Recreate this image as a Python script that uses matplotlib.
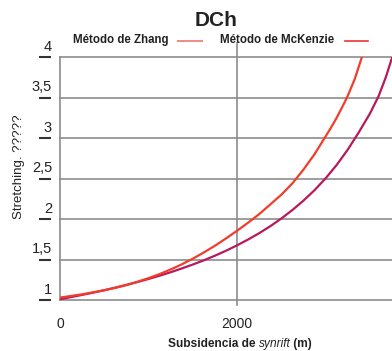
import matplotlib
matplotlib.use("Agg")
import matplotlib.pyplot as plt
import matplotlib.transforms as mtransforms
from matplotlib.lines import Line2D

# ---- data ----
subs_mckenzie = [0, 125, 250, 375, 500, 625, 750, 875, 1000, 1125, 1250, 1375,
                 1500, 1625, 1750, 1875, 2000, 2125, 2250, 2375, 2500, 2625,
                 2750, 2875, 3000, 3062, 3125, 3187, 3250, 3330, 3410]
stretch_mckenzie = [1.03, 1.05, 1.07, 1.095, 1.12, 1.15, 1.185, 1.225, 1.27,
                    1.32, 1.377, 1.44, 1.51, 1.587, 1.67, 1.76, 1.855, 1.955,
                    2.06, 2.18, 2.30, 2.44, 2.61, 2.80, 3.02, 3.13, 3.25, 3.38,
                    3.52, 3.73, 4.0]

subs_zhang = [0, 125, 250, 375, 500, 625, 750, 875, 1000, 1125, 1250, 1375,
              1500, 1625, 1750, 1875, 2000, 2125, 2250, 2375, 2500, 2625, 2750,
              2875, 3000, 3125, 3250, 3375, 3500, 3600, 3680, 3750]
stretch_zhang = [1.01, 1.036, 1.063, 1.091, 1.121, 1.153, 1.186, 1.222, 1.26,
                 1.30, 1.343, 1.389, 1.438, 1.49, 1.547, 1.608, 1.675, 1.747,
                 1.825, 1.911, 2.006, 2.111, 2.227, 2.356, 2.502, 2.667, 2.856,
                 3.07, 3.30, 3.52, 3.75, 3.99]

y_ticks = [1, 1.5, 2, 2.5, 3, 3.5, 4]
y_tick_labels = ["1", "1,5", "2", "2,5", "3", "3,5", "4"]
x_ticks = [0, 2000]
x_tick_labels = ["0", "2000"]

title = "DCh"
legend_labels = ["Método de Zhang", "Método de McKenzie"]
ylabel = "Stretching. ?????"

FONT = ["Liberation Sans", "DejaVu Sans"]

GRID = "#8c8c8c"
C_UP = "#f23c2c"
C_LOW = "#b8195a"
TXT = "#222222"

W, H = 392, 351
fig = plt.figure(figsize=(W / 100, H / 100), dpi=100)
ax = fig.add_axes([60 / W, 1 - 300 / H, 332 / W, 243 / H])
ax.set_xlim(0, 3750)
ax.set_ylim(1, 4)
for s in ["top", "right", "bottom"]:
    ax.spines[s].set_visible(False)
ax.spines["left"].set_color(GRID)
ax.spines["left"].set_linewidth(1.2)

# horizontal grid
for v in y_ticks:
    ax.axhline(v, color=GRID, lw=1.2, clip_on=False, zorder=1)
# vertical line at 2000, extending beyond the axes
ax.axvline(2000, ymin=-0.02, ymax=1.058, color=GRID, lw=1.2, clip_on=False, zorder=1)

# curves
ax.plot(subs_zhang, stretch_zhang, color=C_LOW, lw=1.6, zorder=3)
ax.plot(subs_mckenzie, stretch_mckenzie, color=C_UP, lw=1.6, zorder=3)

# y ticks (dash + label above)
ax.set_yticks([])
trans = mtransforms.blended_transform_factory(ax.transAxes, ax.transData)
for v, lab in zip(y_ticks, y_tick_labels):
    ax.plot([-0.062, -0.028], [v, v], transform=trans, color="#333333",
            lw=1.5, clip_on=False, solid_capstyle="butt")
    ax.annotate(lab, xy=(-0.024, v), xycoords=trans, xytext=(0, 2.5),
                textcoords="offset points", ha="right", va="bottom",
                fontsize=10.5, family=FONT, color=TXT)

# x ticks
ax.set_xticks(x_ticks)
ax.set_xticklabels(x_tick_labels, fontsize=10, family=FONT, color=TXT)
ax.tick_params(axis="x", length=0, pad=12)

# y label
fig.text(19 / W, 1 - 167 / H, ylabel, rotation=90, ha="center", va="center",
         fontsize=9.5, family=FONT, color=TXT)

# x label with italic part
t1 = fig.text(168 / W, 1 - 347 / H, "Subsidencia de ", fontsize=8.6,
              family=FONT, fontweight="bold", color=TXT, va="baseline")
t2 = ax.annotate("synrift", xy=(1, 0), xycoords=t1, va="bottom", ha="left",
                 fontsize=8.6, family=FONT, fontstyle="italic", color=TXT)
t3 = ax.annotate(" (m)", xy=(1, 0), xycoords=t2, va="bottom", ha="left",
                 fontsize=8.6, family=FONT, fontweight="bold", color=TXT)

# title
fig.text(216.5 / W, 1 - 20 / H, title, ha="center", va="center", fontsize=15,
         family=FONT, fontweight="bold", color=TXT)

# legend (manual)
fig.text(73 / W, 1 - 40 / H, legend_labels[0], ha="left", va="center",
         fontsize=8.3, family=FONT, fontweight="bold", color=TXT)
fig.add_artist(Line2D([178 / W, 202 / W], [1 - 41 / H, 1 - 41 / H],
                      transform=fig.transFigure, color="#f08a82", lw=1.4))
fig.text(220 / W, 1 - 40 / H, legend_labels[1], ha="left", va="center",
         fontsize=8.3, family=FONT, fontweight="bold", color=TXT)
fig.add_artist(Line2D([345 / W, 368 / W], [1 - 41 / H, 1 - 41 / H],
                      transform=fig.transFigure, color="#ee3434", lw=1.2))

fig.savefig("out.png", dpi=100)
